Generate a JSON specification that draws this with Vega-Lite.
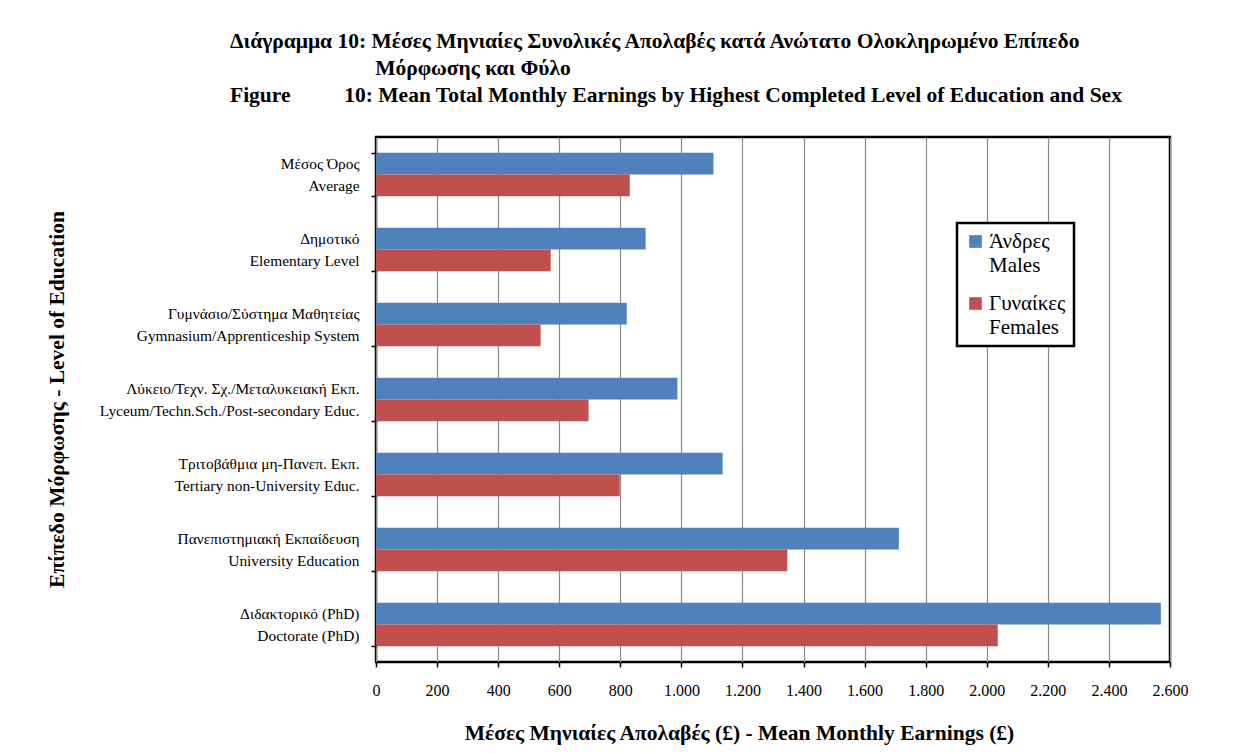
{
  "$schema": "https://vega.github.io/schema/vega-lite/v6.json",
  "autosize": {"type": "none"},
  "width": 794,
  "height": 525,
  "padding": {"left": 376, "top": 137, "right": 89, "bottom": 91},
  "background": "white",
  "title": {
    "text": [
      "Διάγραμμα 10: Μέσες Μηνιαίες Συνολικές Απολαβές κατά Ανώτατο Ολοκληρωμένο Επίπεδο",
      "\u200b\u00a0\u00a0\u00a0\u00a0\u00a0\u00a0\u00a0\u00a0\u00a0\u00a0\u00a0\u00a0\u00a0\u00a0\u00a0\u00a0\u00a0\u00a0\u00a0\u00a0\u00a0\u00a0\u00a0\u00a0\u00a0\u00a0\u00a0Μόρφωσης και Φύλο",
      "Figure\u00a0\u00a0\u00a0\u00a0\u00a0\u00a0\u00a0\u00a0\u00a0 10: Mean Total Monthly Earnings by Highest Completed Level of Education and Sex"
    ],
    "anchor": "start",
    "frame": "group",
    "dx": -146,
    "offset": 24,
    "font": "Liberation Serif",
    "fontSize": 21.5,
    "fontWeight": "bold",
    "color": "black",
    "lineHeight": 27
  },
  "data": {
    "values": [
      {"level": "Μέσος Όρος|Average", "sex": "Άνδρες|Males", "earnings": 1105},
      {"level": "Μέσος Όρος|Average", "sex": "Γυναίκες|Females", "earnings": 831},
      {"level": "Δημοτικό|Elementary Level", "sex": "Άνδρες|Males", "earnings": 883},
      {"level": "Δημοτικό|Elementary Level", "sex": "Γυναίκες|Females", "earnings": 572},
      {"level": "Γυμνάσιο/Σύστημα Μαθητείας|Gymnasium/Apprenticeship System", "sex": "Άνδρες|Males", "earnings": 821},
      {"level": "Γυμνάσιο/Σύστημα Μαθητείας|Gymnasium/Apprenticeship System", "sex": "Γυναίκες|Females", "earnings": 539},
      {"level": "Λύκειο/Τεχν. Σχ./Μεταλυκειακή Εκπ.|Lyceum/Techn.Sch./Post-secondary Educ.", "sex": "Άνδρες|Males", "earnings": 987},
      {"level": "Λύκειο/Τεχν. Σχ./Μεταλυκειακή Εκπ.|Lyceum/Techn.Sch./Post-secondary Educ.", "sex": "Γυναίκες|Females", "earnings": 696},
      {"level": "Τριτοβάθμια μη-Πανεπ. Εκπ.|Tertiary non-University Educ.", "sex": "Άνδρες|Males", "earnings": 1135},
      {"level": "Τριτοβάθμια μη-Πανεπ. Εκπ.|Tertiary non-University Educ.", "sex": "Γυναίκες|Females", "earnings": 798},
      {"level": "Πανεπιστημιακή Εκπαίδευση|University Education", "sex": "Άνδρες|Males", "earnings": 1712},
      {"level": "Πανεπιστημιακή Εκπαίδευση|University Education", "sex": "Γυναίκες|Females", "earnings": 1347},
      {"level": "Διδακτορικό (PhD)|Doctorate (PhD)", "sex": "Άνδρες|Males", "earnings": 2570},
      {"level": "Διδακτορικό (PhD)|Doctorate (PhD)", "sex": "Γυναίκες|Females", "earnings": 2036}
    ]
  },
  "mark": {"type": "bar"},
  "encoding": {
    "y": {
      "field": "level",
      "type": "nominal",
      "sort": null,
      "scale": {"paddingInner": 0.42, "paddingOuter": 0.21},
      "axis": {
        "title": "Επίπεδο Μόρφωσης - Level of Education",
        "titleFont": "Liberation Serif",
        "titleFontSize": 21.5,
        "titleFontWeight": "bold",
        "titleColor": "black",
        "titleX": -319,
        "titleY": 262,
        "titleAngle": -90,
        "titleAlign": "center",
        "titleBaseline": "middle",
        "labelExpr": "split(datum.label, '|')",
        "labelFont": "Liberation Serif",
        "labelFontSize": 15.4,
        "labelColor": "black",
        "labelAlign": "right",
        "labelLineHeight": 22,
        "labelPadding": 12,
        "labelOffset": -11,
        "labelLimit": 400,
        "tickBand": "extent",
        "tickSize": 5,
        "tickColor": "black",
        "tickWidth": 1.5,
        "domain": false,
        "grid": false
      }
    },
    "yOffset": {
      "field": "sex",
      "type": "nominal",
      "sort": ["Άνδρες|Males", "Γυναίκες|Females"]
    },
    "x": {
      "field": "earnings",
      "type": "quantitative",
      "scale": {"domain": [0, 2600], "nice": false},
      "axis": {
        "values": [0, 200, 400, 600, 800, 1000, 1200, 1400, 1600, 1800, 2000, 2200, 2400, 2600],
        "labelExpr": "replace(format(datum.value, ','), ',', '.')",
        "labelFont": "Liberation Serif",
        "labelFontSize": 16,
        "labelColor": "black",
        "labelPadding": 15,
        "labelFlush": false,
        "tickSize": 5,
        "tickColor": "black",
        "tickWidth": 1.5,
        "domain": false,
        "grid": true,
        "gridColor": "#8a8a8a",
        "gridWidth": 1.2,
        "title": "Μέσες Μηνιαίες Απολαβές (£) - Mean Monthly Earnings (£)",
        "titleFont": "Liberation Serif",
        "titleFontSize": 21.5,
        "titleFontWeight": "bold",
        "titleColor": "black",
        "titleX": 363,
        "titleY": 71,
        "titleAlign": "center",
        "titleBaseline": "middle"
      }
    },
    "color": {
      "field": "sex",
      "type": "nominal",
      "scale": {"domain": ["Άνδρες|Males", "Γυναίκες|Females"], "range": ["#4F81BD", "#C0504D"]},
      "legend": {
        "title": null,
        "orient": "none",
        "legendX": 581,
        "legendY": 86,
        "labelExpr": "split(datum.label, '|')",
        "labelFont": "Liberation Serif",
        "labelFontSize": 21,
        "labelColor": "black",
        "labelBaseline": "top",
        "labelOffset": 3,
        "symbolType": "square",
        "symbolSize": 160,
        "symbolStrokeWidth": 0,
        "symbolOpacity": 1,
        "rowPadding": 16,
        "padding": 8,
        "strokeColor": "black",
        "fillColor": "white",
        "encode": {
          "legend": {"update": {"strokeWidth": {"value": 2.5}}},
          "labels": {"update": {"lineHeight": {"value": 24}, "dy": {"value": -11}}}
        }
      }
    }
  },
  "config": {
    "view": {"stroke": "black", "strokeWidth": 2.5},
    "font": "Liberation Serif"
  }
}
